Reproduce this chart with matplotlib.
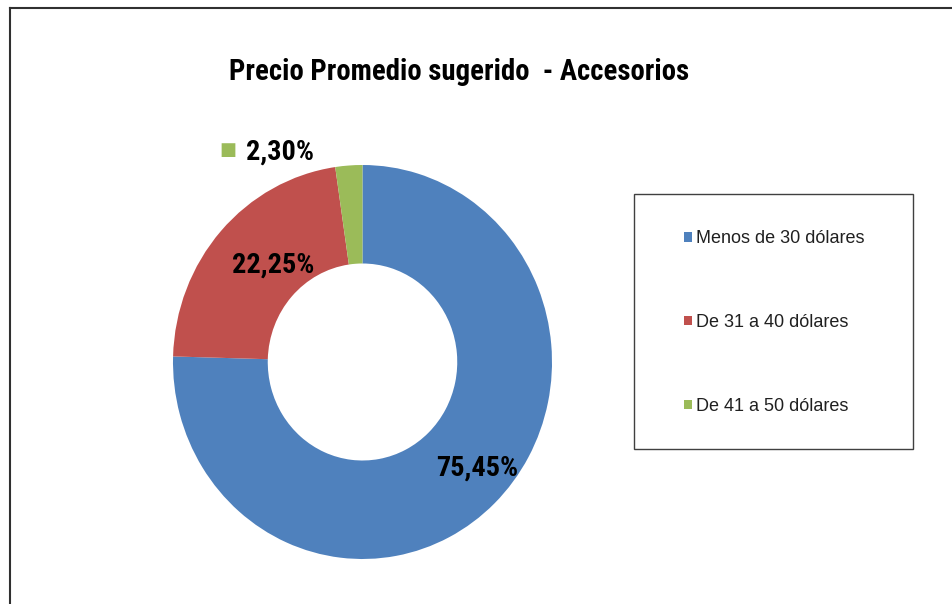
import matplotlib
matplotlib.use("Agg")
import matplotlib.pyplot as plt
from matplotlib.patches import Rectangle
from matplotlib.lines import Line2D
import numpy as np

categories = ["Menos de 30 dólares", "De 31 a 40 dólares", "De 41 a 50 dólares"]
values = [75.45, 22.25, 2.30]
value_labels = ["75,45%", "22,25%", "2,30%"]
colors = ["#4F81BD", "#C0504D", "#9BBB59"]
title = "Precio Promedio sugerido  - Accesorios"

narrow = ["Liberation Sans Narrow", "Roboto Condensed", "DejaVu Sans"]
bold_kw = dict(fontweight="bold", family=narrow, fontstretch="condensed", color="black")

W, H = 952, 604
fig = plt.figure(figsize=(W / 100, H / 100), dpi=100)

cx, cy, RX, RY = 362.5, 362, 189.5, 197
ax = fig.add_axes([(cx - RX) / W, (H - cy - RY) / H, 2 * RX / W, 2 * RY / H])
wedges, _ = ax.pie(values, colors=colors, startangle=90, counterclock=False,
                   radius=1.0, wedgeprops=dict(width=0.5, linewidth=0))
ax.set_xlim(-1, 1)
ax.set_ylim(-1, 1)
ax.set_aspect("auto")
ax.axis("off")

# inside labels
radii = [0.81, 0.68]
for w, lab, r, dang in zip(wedges[:2], value_labels[:2], radii, [4.1, -4.5]):
    ang = np.deg2rad((w.theta1 + w.theta2) / 2 + dang)
    ax.text(r * np.cos(ang), r * np.sin(ang), lab, ha="center", va="center",
            fontsize=20.3, **bold_kw)

# outside label for small slice with legend key
ax.text(-0.71, 1.076, "■", ha="center", va="center", fontsize=13,
        color=colors[2], family=["DejaVu Sans"], clip_on=False)
ax.text(-0.435, 1.066, value_labels[2], ha="center", va="center",
        fontsize=20.3, clip_on=False, **bold_kw)

fig.text(459 / W, 1 - 72 / H, title, ha="center", va="center",
         fontsize=20.7, **bold_kw)

# legend box
bx0, by0, bx1, by1 = 634, 194, 913, 449
fig.patches.append(Rectangle((bx0 / W, 1 - by1 / H), (bx1 - bx0) / W, (by1 - by0) / H,
                             transform=fig.transFigure, fill=False,
                             edgecolor="#404040", linewidth=1.0))
leg = fig.legend(wedges, categories, loc="center",
                 bbox_to_anchor=(774 / W, 1 - 322.5 / H), frameon=False,
                 handlelength=0.45, handleheight=0.45, handletextpad=0.2,
                 labelspacing=3.7, prop=dict(family="Liberation Sans", size=13))
for t in leg.get_texts():
    t.set_color("#202020")

# outer frame
fig.lines.append(Line2D([10 / W, 10 / W], [0, 1 - 8 / H], transform=fig.transFigure,
                        color="#303030", linewidth=1.5))
fig.lines.append(Line2D([10 / W, 1], [1 - 8 / H, 1 - 8 / H], transform=fig.transFigure,
                        color="#303030", linewidth=1.5))

fig.savefig("out.png", dpi=100)
